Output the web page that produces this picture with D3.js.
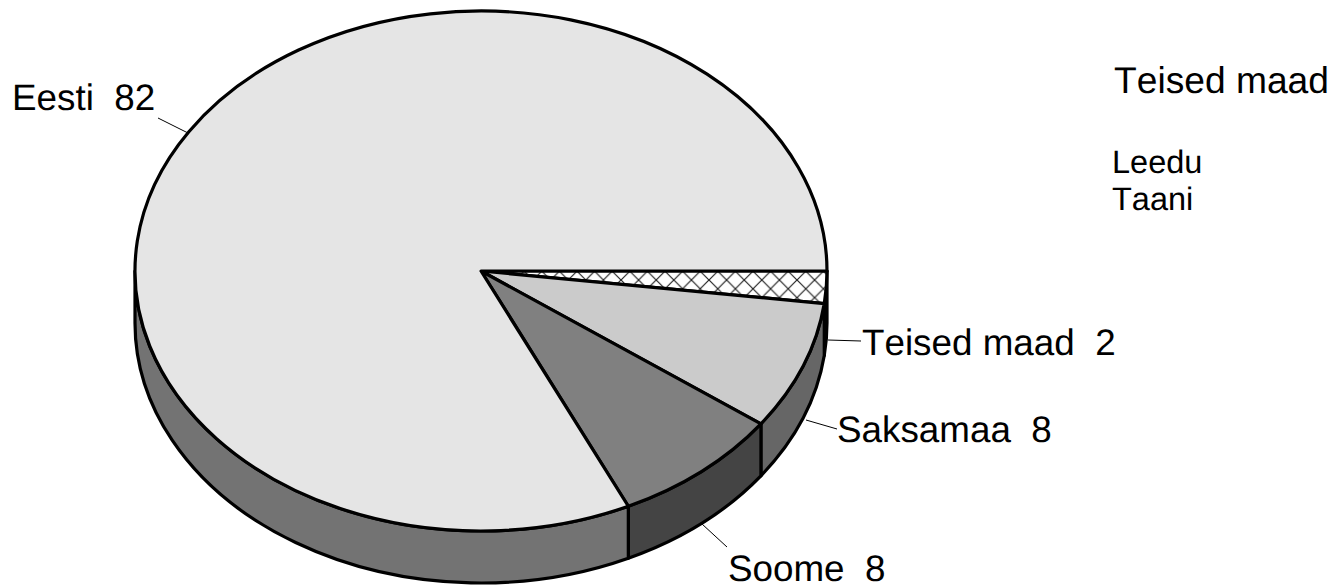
<!DOCTYPE html>
<html><head><meta charset="utf-8">
<script src="https://cdn.jsdelivr.net/npm/d3@7"></script>
<style>html,body{margin:0;background:#fff}svg{display:block}text{font-family:"Liberation Sans",Arial,sans-serif;fill:#000;text-rendering:geometricPrecision;font-kerning:none}</style>
</head><body><svg id="c" width="1335" height="587"></svg>
<script>
const categories=["Teised maad","Saksamaa","Soome","Eesti"];
const values=[2,8,8,82];
const topFills=["url(#hatch)","#cbcbcb","#808080","#e5e5e5"];
const sideFills=["#000000","#666666","#444444","#737373"];
const labels=["Teised maad  2","Saksamaa  8","Soome  8","Eesti  82"];
const labelX=[862,837,728,12];
const labelY=[355,442,581,110];
const leaders=[[828,340,861,341],[806,420,837,429],[702,524,727,547],[158,118,188,133]];
const noteTitle="Teised maad";
const notes=["Leedu","Taani"];

const svg=d3.select("#c");
const cx=481,cy=271,rx=346,ry=260,depth=52;
const sx=d3.scaleLinear([-1,1],[cx-rx,cx+rx]);
const sy=d3.scaleLinear([-1,1],[cy-ry,cy+ry]);
const defs=svg.append("defs");
const s=17.6;
const p=defs.append("pattern").attr("id","hatch").attr("patternUnits","userSpaceOnUse")
  .attr("width",s).attr("height",s).attr("patternTransform","translate(621,280)");
p.append("rect").attr("width",s).attr("height",s).attr("fill","#fff");
p.append("path").attr("d",`M0 0L${s} ${s}M${s} 0L0 ${s}`).attr("stroke","#222").attr("stroke-width",1.2);

const arcs=d3.pie().sort(null).startAngle(0).endAngle(2*Math.PI)(values);
const X=a=>sx(Math.cos(a)),Y=a=>sy(Math.sin(a));
const arcTo=(a,b,dy=0,sweep=1)=>`A${rx} ${ry} 0 ${Math.abs(b-a)>Math.PI?1:0} ${sweep} ${X(b)} ${Y(b)+dy}`;
const g=svg.append("g");
arcs.forEach((d,i)=>{
  const a=d.startAngle,b=Math.min(d.endAngle,Math.PI);
  if(a>=Math.PI)return;
  g.append("path").attr("d",`M${X(a)} ${Y(a)}${arcTo(a,b)}L${X(b)} ${Y(b)+depth}${arcTo(b,a,depth,0)}Z`)
   .attr("fill",sideFills[i]).attr("stroke","#000").attr("stroke-width",3.2).attr("stroke-linejoin","round");
});
arcs.forEach((d,i)=>{
  g.append("path").attr("d",`M${cx} ${cy}L${X(d.startAngle)} ${Y(d.startAngle)}${arcTo(d.startAngle,d.endAngle)}Z`)
   .attr("fill",topFills[i]).attr("stroke","#000").attr("stroke-width",3.2).attr("stroke-linejoin","round");
});
leaders.forEach(l=>svg.append("line").attr("x1",l[0]).attr("y1",l[1]).attr("x2",l[2]).attr("y2",l[3]).attr("stroke","#000").attr("stroke-width",1));
labels.forEach((t,i)=>svg.append("text").attr("x",labelX[i]).attr("y",labelY[i]).attr("font-size",36.8).style("white-space","pre").text(t));
svg.append("text").attr("x",1114).attr("y",93).attr("font-size",37.2).text(noteTitle);
notes.forEach((t,i)=>svg.append("text").attr("x",1112).attr("y",[173,210][i]).attr("font-size",32.5).text(t));
</script></body></html>
